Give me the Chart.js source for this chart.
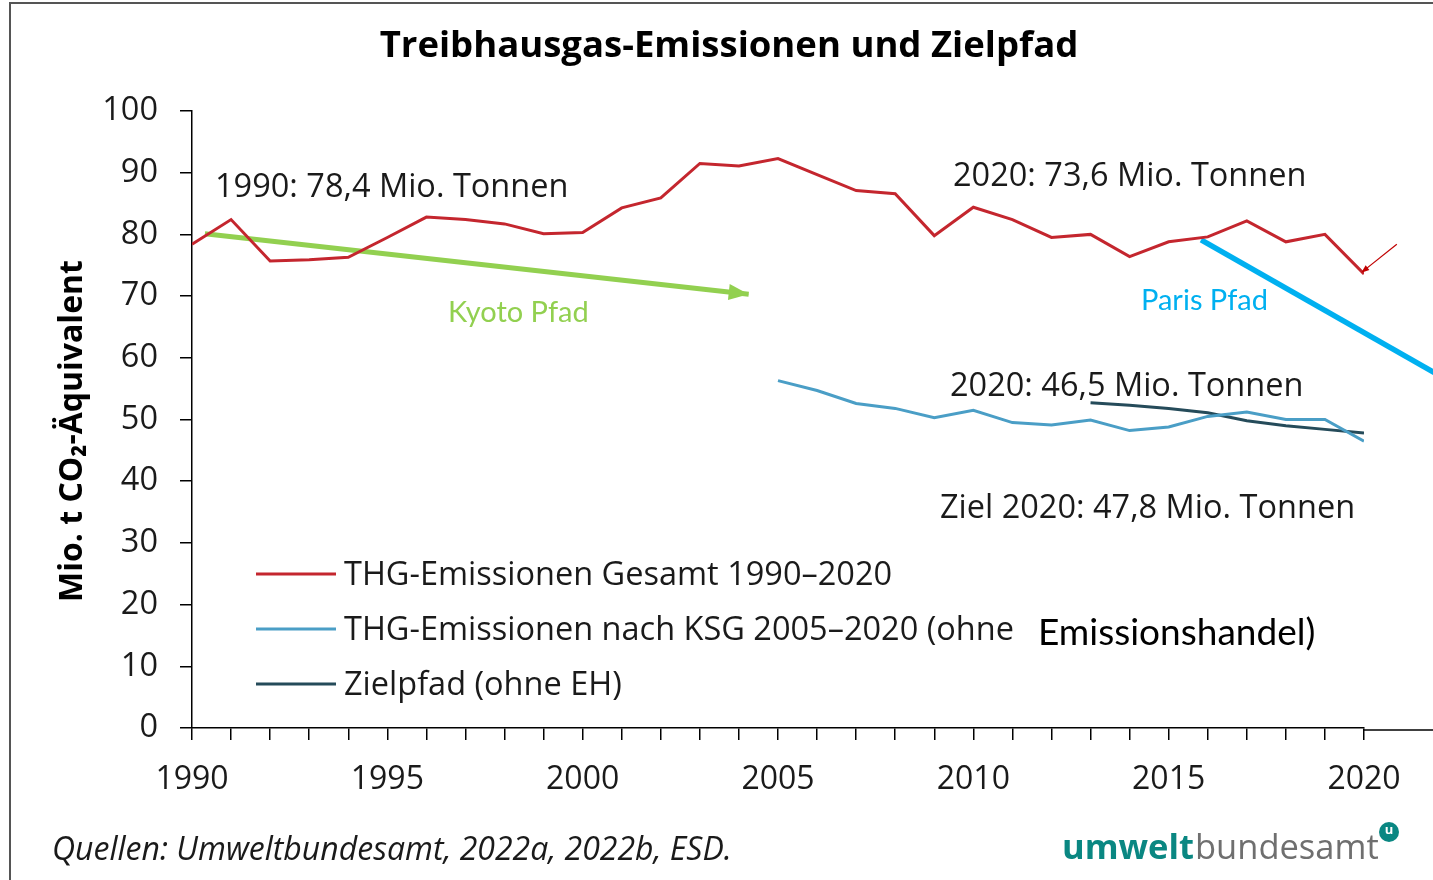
<!DOCTYPE html>
<html><head><meta charset="utf-8">
<script src="https://cdn.jsdelivr.net/npm/chart.js@4/dist/chart.umd.min.js"></script>
<style>html,body{margin:0;padding:0;background:#fff;overflow:hidden}#wrap{width:1433px;height:880px;position:relative}</style>
</head><body><div id="wrap"><canvas id="c"></canvas></div>
<script>
// ---- data ----
const years = [1990,1991,1992,1993,1994,1995,1996,1997,1998,1999,2000,2001,2002,2003,2004,2005,2006,2007,2008,2009,2010,2011,2012,2013,2014,2015,2016,2017,2018,2019,2020];
const totalEmissions = [78.4,82.4,75.7,75.9,76.3,79.5,82.8,82.4,81.7,80.1,80.3,84.3,85.9,91.5,91.1,92.3,89.7,87.1,86.6,79.8,84.4,82.4,79.5,80.0,76.4,78.8,79.6,82.2,78.8,80.0,73.6];
const ksgYears = [2005,2006,2007,2008,2009,2010,2011,2012,2013,2014,2015,2016,2017,2018,2019,2020];
const ksgEmissions = [56.3,54.7,52.6,51.8,50.3,51.5,49.5,49.1,49.9,48.2,48.8,50.5,51.2,50.0,50.0,46.5];
const targetYears = [2013,2014,2015,2016,2017,2018,2019,2020];
const targetPath = [52.7,52.3,51.8,51.1,49.8,49.0,48.4,47.8];
const kyotoYears = [1990.33,2004.25];
const kyotoValues = [80.1,70.3];
const parisYears = [2015.83,2021.8];
const parisValues = [79.1,57.6];
const noteArrowYears = [2020.84,2019.93];
const noteArrowValues = [78.4,73.8];
const yTicks = [0,10,20,30,40,50,60,70,80,90,100];
const xLabelYears = [1990,1995,2000,2005,2010,2015,2020];
const seriesLabels = ['THG-Emissionen Gesamt 1990\u20132020','THG-Emissionen nach KSG 2005\u20132020 (ohne','Zielpfad (ohne EH)'];
const seriesColors = ['#c4262e','#4a9ec6','#254b5a'];

const pts = (xs, ys) => xs.map((x,i)=>({x:x,y:ys[i]}));
const TXT = '#1a1a1a';
const FONT = '"Open Sans", "DejaVu Sans", sans-serif';

function arrowHead(ctx, x1, y1, x2, y2, len, wid, color){
  const a = Math.atan2(y2-y1, x2-x1);
  ctx.save();
  ctx.translate(x2,y2); ctx.rotate(a);
  ctx.fillStyle = color;
  ctx.beginPath(); ctx.moveTo(0,0); ctx.lineTo(-len, -wid/2); ctx.lineTo(-len, wid/2); ctx.closePath(); ctx.fill();
  ctx.restore();
}

const decor = {
  id:'decor',
  afterDraw(chart){
    const ctx = chart.ctx, xs = chart.scales.x, ys = chart.scales.y;
    const X = v=>xs.getPixelForValue(v), Y = v=>ys.getPixelForValue(v);
    ctx.save();
    // frame
    ctx.strokeStyle='#555'; ctx.lineWidth=2;
    ctx.beginPath(); ctx.moveTo(10,880); ctx.lineTo(10,3); ctx.lineTo(1433,3); ctx.stroke();
    // axis extension to the right
    ctx.strokeStyle='#000'; ctx.lineWidth=1.5;
    ctx.beginPath(); ctx.moveTo(chart.chartArea.right, chart.chartArea.bottom+2); ctx.lineTo(1433, chart.chartArea.bottom+2); ctx.stroke();
    // title
    ctx.fillStyle='#000'; ctx.textAlign='center'; ctx.textBaseline='middle';
    ctx.font='bold 36.5px '+FONT;
    ctx.fillText('Treibhausgas-Emissionen und Zielpfad', 729, 47);
    // y title
    ctx.save(); ctx.translate(73, 431); ctx.rotate(-Math.PI/2);
    ctx.font='bold 32px '+FONT; ctx.fillStyle='#000';
    ctx.fillText('Mio. t CO\u2082-\u00C4quivalent', 0, 0);
    ctx.restore();
    // annotations
    ctx.textAlign='left'; ctx.fillStyle=TXT; ctx.font='32.5px '+FONT;
    ctx.fillText('1990: 78,4 Mio. Tonnen', 215, 188);
    ctx.fillText('2020: 73,6 Mio. Tonnen', 953, 177);
    ctx.fillText('2020: 46,5 Mio. Tonnen', 950, 387);
    ctx.fillText('Ziel 2020: 47,8 Mio. Tonnen', 940, 509);
    ctx.font='29px Lato, '+FONT;
    ctx.fillStyle='#92d050'; ctx.fillText('Kyoto Pfad', 448, 313);
    ctx.fillStyle='#00b0f0'; ctx.fillText('Paris Pfad', 1141, 301);
    // arrowheads
    arrowHead(ctx, X(kyotoYears[0]),Y(kyotoValues[0]),X(kyotoYears[1]),Y(kyotoValues[1]), 20, 16, '#92d050');
    arrowHead(ctx, X(noteArrowYears[0]),Y(noteArrowValues[0]),X(noteArrowYears[1]),Y(noteArrowValues[1]), 8, 6, '#c00000');
    // legend
    const rows=[574,629,684];
    chart.data.datasets.slice(0,3).forEach((d,i)=>{
      ctx.strokeStyle=d.borderColor; ctx.lineWidth=3;
      ctx.beginPath(); ctx.moveTo(256,rows[i]); ctx.lineTo(336,rows[i]); ctx.stroke();
      ctx.fillStyle=TXT; ctx.font='32.5px '+FONT; ctx.textAlign='left';
      ctx.fillText(d.label, 344, rows[i]+2);
    });
    ctx.fillStyle='#000'; ctx.font='37px Lato, "Liberation Sans", sans-serif';
    ctx.fillText('Emissionshandel)', 1038, 633);
    // source
    ctx.fillStyle=TXT; ctx.font='italic 32px '+FONT;
    ctx.fillText('Quellen: Umweltbundesamt, 2022a, 2022b, ESD.', 52, 851);
    // logo
    ctx.font='bold 34.5px '+FONT; ctx.fillStyle='#0a8782';
    ctx.fillText('umwelt', 1062, 849);
    const w1 = ctx.measureText('umwelt').width;
    ctx.font='34.5px '+FONT; ctx.fillStyle='#6f6f6f';
    ctx.fillText('bundesamt', 1062+w1+1, 849);
    ctx.fillStyle='#0a8782'; ctx.beginPath(); ctx.arc(1389,832,10,0,Math.PI*2); ctx.fill();
    ctx.fillStyle='#fff'; ctx.font='bold 13px '+FONT; ctx.textAlign='center'; ctx.fillText('u',1389,830);
    ctx.restore();
  }
};

new Chart(document.getElementById('c'), {
  type:'line',
  data:{
    datasets:[
      {label:seriesLabels[0], data:pts(years,totalEmissions), borderColor:seriesColors[0], borderWidth:3, pointRadius:0, tension:0},
      {label:seriesLabels[1], data:pts(ksgYears,ksgEmissions), borderColor:seriesColors[1], borderWidth:3, pointRadius:0, tension:0},
      {label:seriesLabels[2], data:pts(targetYears,targetPath), borderColor:seriesColors[2], borderWidth:3, pointRadius:0, tension:0},
      {label:'Kyoto Pfad', data:pts(kyotoYears,kyotoValues), borderColor:'#92d050', borderWidth:5, pointRadius:0, clip:false},
      {label:'Paris Pfad', data:pts(parisYears,parisValues), borderColor:'#00b0f0', borderWidth:5.5, pointRadius:0, clip:false},
      {label:'note', data:pts(noteArrowYears,noteArrowValues), borderColor:'#c00000', borderWidth:1.2, pointRadius:0, clip:false}
    ]
  },
  options:{
    responsive:true, maintainAspectRatio:false, animation:false,
    layout:{padding:{top:111,right:69,bottom:0,left:0}},
    plugins:{legend:{display:false}, title:{display:false}, tooltip:{enabled:false}},
    scales:{
      x:{type:'linear', min:1990, max:2020,
        afterFit:s=>{s.height=152;},
        afterBuildTicks:s=>{s.ticks=years.map(v=>({value:v}));},
        ticks:{autoSkip:false, maxRotation:0, padding:21, color:TXT, font:{family:FONT, size:32},
          callback:v=>xLabelYears.includes(v)?String(v):''},
        grid:{drawOnChartArea:false, drawTicks:true, tickLength:12, color:'#000', lineWidth:1.5},
        border:{display:true, color:'#000', width:1.5}
      },
      y:{min:0, max:100,
        afterFit:s=>{s.width=192;},
        afterBuildTicks:s=>{s.ticks=yTicks.map(v=>({value:v}));},
        ticks:{padding:22, color:TXT, font:{family:FONT, size:32.5}},
        grid:{drawOnChartArea:false, drawTicks:true, tickLength:12, color:'#000', lineWidth:1.5},
        border:{display:true, color:'#000', width:1.5}
      }
    }
  },
  plugins:[decor]
});
</script></body></html>
